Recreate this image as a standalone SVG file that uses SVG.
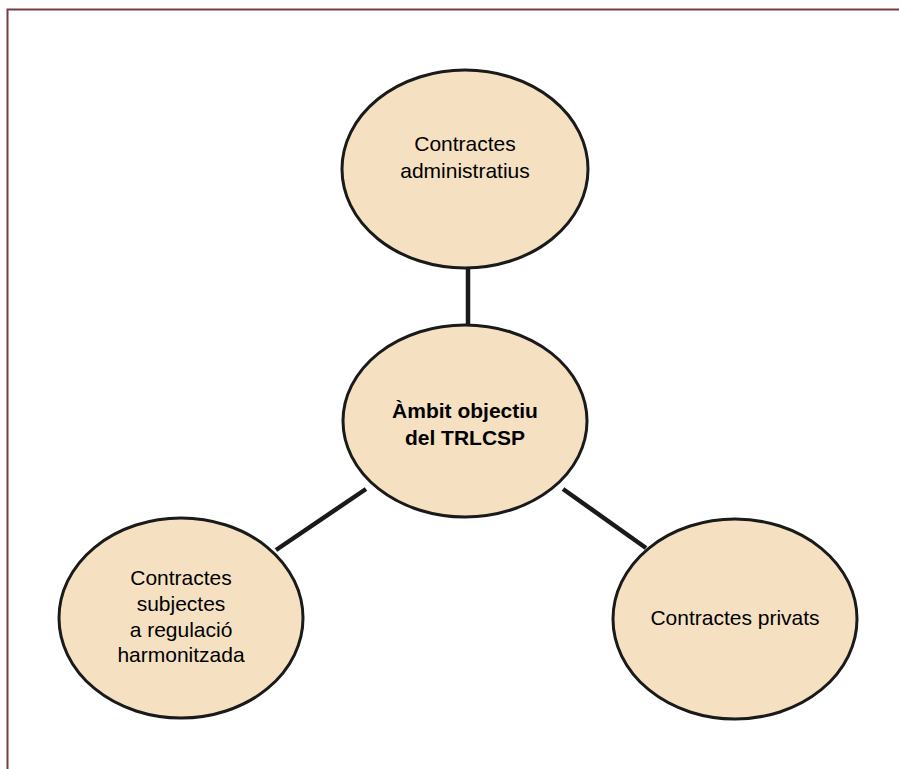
<svg xmlns="http://www.w3.org/2000/svg" width="899" height="769" viewBox="0 0 899 769">
<style>
.node ellipse{fill:#f5e1c2;stroke:#1a1a1a;stroke-width:3}
.node text{font-family:"Liberation Sans",Arial,sans-serif;font-size:21px;fill:#000;text-anchor:middle}
.node text.b{font-weight:bold}
#connectors line{stroke:#1a1a1a;stroke-width:4.5}
</style>
<rect x="0" y="0" width="899" height="769" fill="#fff"/>
<path d="M7.5 769 V9.5 H899" fill="none" stroke="#7a3a44" stroke-width="2"/>
<g id="connectors">
<line x1="468" y1="268" x2="468" y2="326"/>
<line x1="366" y1="489" x2="276" y2="550"/>
<line x1="563" y1="489" x2="646" y2="548"/>
</g>
<g id="top" class="node">
<ellipse cx="465" cy="169" rx="123" ry="99"/>
<text x="465" y="151">Contractes</text>
<text x="465" y="178">administratius</text>
</g>
<g id="center" class="node">
<ellipse cx="465" cy="421" rx="122" ry="96"/>
<text class="b" x="465" y="418">Àmbit objectiu</text>
<text class="b" x="465" y="445">del TRLCSP</text>
</g>
<g id="left" class="node">
<ellipse cx="181" cy="618" rx="122" ry="100"/>
<text x="181" y="585">Contractes</text>
<text x="181" y="611">subjectes</text>
<text x="181" y="637">a regulació</text>
<text x="181" y="662">harmonitzada</text>
</g>
<g id="right" class="node">
<ellipse cx="735" cy="619" rx="122" ry="100"/>
<text x="735" y="625">Contractes privats</text>
</g>
</svg>
